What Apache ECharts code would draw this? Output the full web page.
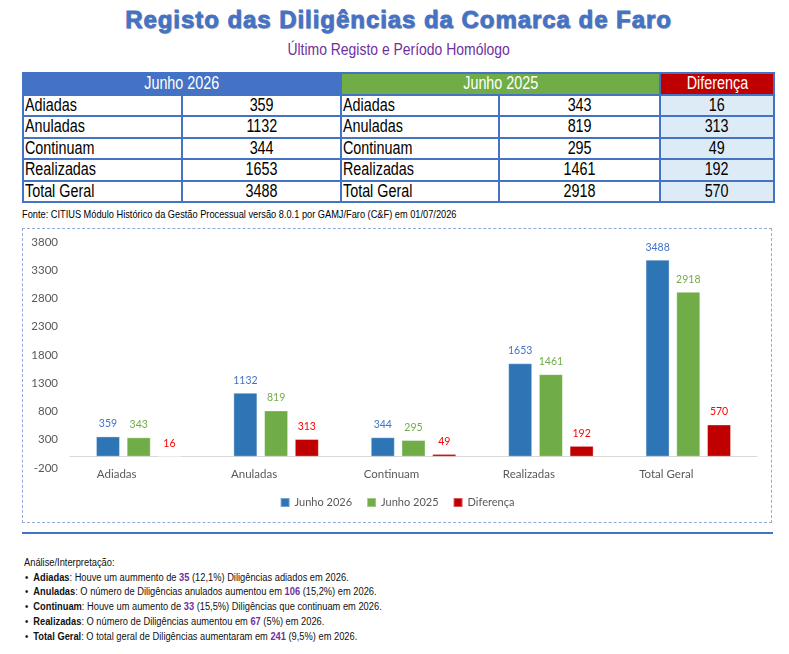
<!DOCTYPE html>
<html>
<head>
<meta charset="utf-8">
<script src="https://cdn.jsdelivr.net/npm/echarts@6/dist/echarts.min.js"></script>
<style>
  body { margin: 0; background: #fff; width: 789px; height: 654px; position: relative; overflow: hidden;
    font-family: "Liberation Sans", Arial, sans-serif; }
  .s { display: inline-block; transform: scaleX(0.82); white-space: nowrap; }
  #title { position: absolute; left: 0; width: 797px; top: 6px; text-align: center;
    font-weight: bold; font-size: 24px; color: #4472C4; letter-spacing: 0.95px;
    -webkit-text-stroke: 0.8px #4472C4; text-shadow: 1px 1px 1px rgba(0,0,0,0.25); }
  #subtitle { position: absolute; left: 0; width: 797px; top: 40px; text-align: center; font-size: 17px; color: #7030A0; }
  #subtitle .s { transform-origin: center; }
  #tbl { position: absolute; left: 22px; top: 72px; border-collapse: collapse; table-layout: fixed; font-size: 17.5px; color: #000; }
  #tbl tr { height: 21.5px; }
  #tbl td { border: 2px solid #4472C4; padding: 0 1px; line-height: 17px; white-space: nowrap; overflow: hidden; }
  #tbl td .s { transform-origin: left center; }
  #tbl td.v, #tbl td.d { text-align: center; }
  #tbl td.v .s, #tbl td.d .s, #tbl tr.h td .s { transform-origin: center; }
  #tbl td.d { background: #DDEBF7; }
  #tbl tr.h td { color: #fff; text-align: center; }
  #fonte { position: absolute; left: 22px; top: 208px; font-size: 10.5px; color: #000; }
  #fonte .s { transform: scaleX(0.88); transform-origin: left center; }
  #box { position: absolute; left: 22px; top: 228px; width: 748px; height: 293px; border: 1.5px dashed #8FAADC; }
  #chart { position: absolute; left: 23px; top: 229px; width: 748px; height: 293px; }
  #rule { position: absolute; left: 22px; top: 532px; width: 751px; height: 2px; background: #4472C4; }
  #notes { position: absolute; left: 24px; top: 556px; font-size: 10px; color: #111; line-height: 14.7px;
    transform: scaleX(0.93); transform-origin: left top; white-space: nowrap; }
  #notes ul { margin: 0; padding: 0; list-style: none; }
  #notes li::before { content: "\2022"; display: inline-block; width: 9px; margin-left: 1px; }
  #notes b.n { color: #7030A0; }
</style>
</head>
<body>
<div id="title">Registo das Diligências da Comarca de Faro</div>
<div id="subtitle"><span class="s">Último Registo e Período Homólogo</span></div>
<table id="tbl"></table>
<div id="fonte"><span class="s">Fonte: CITIUS Módulo Histórico da Gestão Processual versão 8.0.1 por GAMJ/Faro (C&amp;F) em 01/07/2026</span></div>
<div id="box"></div>
<div id="chart"></div>
<div id="rule"></div>
<div id="notes">
  <div>Análise/Interpretação:</div>
  <ul>
    <li><b>Adiadas</b>: Houve um aummento de <b class="n">35</b> (12,1%) Diligências adiados em 2026.</li>
    <li><b>Anuladas</b>: O número de Diligências anulados aumentou em <b class="n">106</b> (15,2%) em 2026.</li>
    <li><b>Continuam</b>: Houve um aumento de <b class="n">33</b> (15,5%) Diligências que continuam em 2026.</li>
    <li><b>Realizadas</b>: O número de Diligências aumentou em <b class="n">67</b> (5%) em 2026.</li>
    <li><b>Total Geral</b>: O total geral de Diligências aumentaram em <b class="n">241</b> (9,5%) em 2026.</li>
  </ul>
</div>
<script>
const categories = ["Adiadas", "Anuladas", "Continuam", "Realizadas", "Total Geral"];
const junho2026 = [359, 1132, 344, 1653, 3488];
const junho2025 = [343, 819, 295, 1461, 2918];
const diferenca = [16, 313, 49, 192, 570];
const seriesNames = ["Junho 2026", "Junho 2025", "Diferença"];

// table built from the same arrays
const colW = [159, 159, 158, 161, 114];
const s = t => '<span class="s">' + t + "</span>";
let html = "<colgroup>" + colW.map(w => '<col style="width:' + w + 'px">').join("") + "</colgroup>";
html += '<tr class="h"><td colspan="2" style="background:#4472C4">' + s(seriesNames[0]) +
  '</td><td colspan="2" style="background:#70AD47">' + s(seriesNames[1]) +
  '</td><td style="background:#C00000">' + s(seriesNames[2]) + '</td></tr>';
categories.forEach((c, i) => {
  html += "<tr><td>" + s(c) + '</td><td class="v">' + s(junho2026[i]) + "</td><td>" + s(c) +
    '</td><td class="v">' + s(junho2025[i]) + '</td><td class="d">' + s(diferenca[i]) + "</td></tr>";
});
document.getElementById("tbl").innerHTML = html;

const chart = echarts.init(document.getElementById("chart"));
const font = "Lato, 'Open Sans', sans-serif";
const barColors = ["#2E75B6", "#70AD47", "#C00000"];
const labelColors = ["#4472C4", "#70AD47", "#FF0000"];
const dataSets = [junho2026, junho2025, diferenca];

const option = {
  animation: false,
  textStyle: { fontFamily: font },
  grid: { left: 47, right: 14, top: 13, bottom: 54 },
  legend: {
    top: 263,
    left: "center",
    icon: "rect",
    itemWidth: 9,
    itemHeight: 9,
    itemGap: 14,
    textStyle: { color: "#595959", fontSize: 11, fontFamily: font },
    data: seriesNames
  },
  xAxis: {
    type: "category",
    data: categories,
    axisTick: { show: false },
    axisLine: { lineStyle: { color: "#D9D9D9", width: 1 } },
    axisLabel: { color: "#595959", fontSize: 11.5, margin: 0, padding: [0, 44, 0, 0] }
  },
  yAxis: {
    type: "value",
    min: -200,
    max: 3800,
    interval: 500,
    axisLine: { show: false },
    axisTick: { show: false },
    splitLine: { show: false },
    axisLabel: { color: "#595959", fontSize: 11.5, margin: 12, formatter: v => String(v) }
  },
  series: dataSets.map((d, i) => ({
    name: seriesNames[i],
    type: "bar",
    data: d,
    barWidth: 24,
    barGap: "28%",
    itemStyle: { color: barColors[i], borderColor: "rgba(255,255,255,0.35)", borderWidth: 1 },
    label: { show: true, position: "top", distance: 7, color: labelColors[i], fontSize: 10.5, fontFamily: font }
  }))
};
chart.setOption(option);
</script>
</body>
</html>
